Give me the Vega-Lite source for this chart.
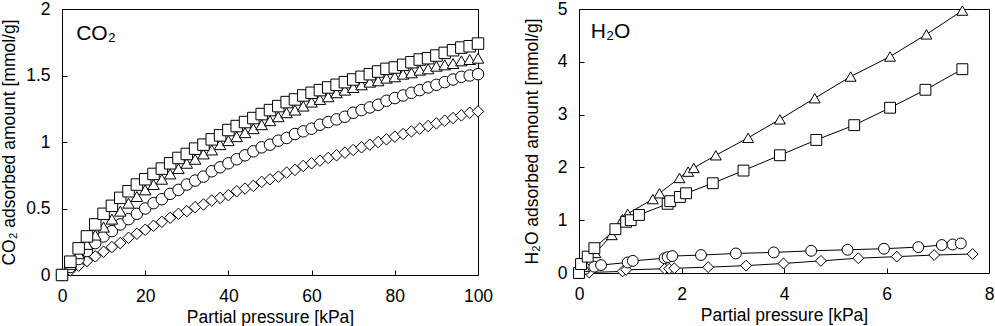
{
  "$schema": "https://vega.github.io/schema/vega-lite/v6.json",
  "autosize": {"type": "pad"},
  "padding": {"left": 0, "top": -1, "right": 0, "bottom": 0},
  "background": "white",
  "spacing": 101,
  "bounds": "flush",
  "config": {
    "view": {"stroke": "black", "strokeWidth": 1},
    "font": "Liberation Sans",
    "axis": {
      "labelFont": "Liberation Sans", "labelFontSize": 17.5, "labelColor": "black",
      "titleFont": "Liberation Sans", "titleFontSize": 17.5, "titleFontWeight": "normal", "titleColor": "black",
      "tickSize": -5, "tickColor": "black", "tickWidth": 1, "labelPadding": 17,
      "domain": false, "grid": false, "labelFlush": false
    }
  },
  "datasets": {
    "co2": [
      {"p":0,"q":0,"s":"di"},{"p":2,"q":0.035,"s":"di"},{"p":4,"q":0.07,"s":"di"},{"p":6,"q":0.105,"s":"di"},{"p":8,"q":0.14,"s":"di"},{"p":10,"q":0.175,"s":"di"},{"p":12,"q":0.21,"s":"di"},{"p":14,"q":0.24,"s":"di"},{"p":16,"q":0.28,"s":"di"},{"p":18,"q":0.31,"s":"di"},{"p":20,"q":0.34,"s":"di"},{"p":22,"q":0.37,"s":"di"},{"p":24,"q":0.4,"s":"di"},{"p":26,"q":0.43,"s":"di"},{"p":28,"q":0.46,"s":"di"},{"p":30,"q":0.48,"s":"di"},{"p":32,"q":0.51,"s":"di"},{"p":34,"q":0.53,"s":"di"},{"p":36,"q":0.56,"s":"di"},{"p":38,"q":0.58,"s":"di"},{"p":40,"q":0.6,"s":"di"},{"p":42,"q":0.63,"s":"di"},{"p":44,"q":0.65,"s":"di"},{"p":46,"q":0.67,"s":"di"},{"p":48,"q":0.7,"s":"di"},{"p":50,"q":0.72,"s":"di"},{"p":52,"q":0.74,"s":"di"},{"p":54,"q":0.77,"s":"di"},{"p":56,"q":0.79,"s":"di"},{"p":58,"q":0.82,"s":"di"},{"p":60,"q":0.84,"s":"di"},{"p":62,"q":0.86,"s":"di"},{"p":64,"q":0.88,"s":"di"},{"p":66,"q":0.9,"s":"di"},{"p":68,"q":0.92,"s":"di"},{"p":70,"q":0.94,"s":"di"},{"p":72,"q":0.96,"s":"di"},{"p":74,"q":0.98,"s":"di"},{"p":76,"q":1.0,"s":"di"},{"p":78,"q":1.02,"s":"di"},{"p":80,"q":1.04,"s":"di"},{"p":82,"q":1.06,"s":"di"},{"p":84,"q":1.08,"s":"di"},{"p":86,"q":1.1,"s":"di"},{"p":88,"q":1.12,"s":"di"},{"p":90,"q":1.14,"s":"di"},{"p":92,"q":1.16,"s":"di"},{"p":94,"q":1.18,"s":"di"},{"p":96,"q":1.2,"s":"di"},{"p":98,"q":1.22,"s":"di"},{"p":100,"q":1.23,"s":"di"},
      {"p":0,"q":0,"s":"ci"},{"p":2,"q":0.06,"s":"ci"},{"p":4,"q":0.12,"s":"ci"},{"p":6,"q":0.18,"s":"ci"},{"p":8,"q":0.24,"s":"ci"},{"p":10,"q":0.29,"s":"ci"},{"p":12,"q":0.33,"s":"ci"},{"p":14,"q":0.38,"s":"ci"},{"p":16,"q":0.42,"s":"ci"},{"p":18,"q":0.46,"s":"ci"},{"p":20,"q":0.5,"s":"ci"},{"p":22,"q":0.54,"s":"ci"},{"p":24,"q":0.57,"s":"ci"},{"p":26,"q":0.61,"s":"ci"},{"p":28,"q":0.64,"s":"ci"},{"p":30,"q":0.68,"s":"ci"},{"p":32,"q":0.71,"s":"ci"},{"p":34,"q":0.74,"s":"ci"},{"p":36,"q":0.78,"s":"ci"},{"p":38,"q":0.81,"s":"ci"},{"p":40,"q":0.84,"s":"ci"},{"p":42,"q":0.87,"s":"ci"},{"p":44,"q":0.9,"s":"ci"},{"p":46,"q":0.93,"s":"ci"},{"p":48,"q":0.96,"s":"ci"},{"p":50,"q":0.98,"s":"ci"},{"p":52,"q":1.01,"s":"ci"},{"p":54,"q":1.03,"s":"ci"},{"p":56,"q":1.06,"s":"ci"},{"p":58,"q":1.08,"s":"ci"},{"p":60,"q":1.1,"s":"ci"},{"p":62,"q":1.13,"s":"ci"},{"p":64,"q":1.15,"s":"ci"},{"p":66,"q":1.17,"s":"ci"},{"p":68,"q":1.19,"s":"ci"},{"p":70,"q":1.22,"s":"ci"},{"p":72,"q":1.24,"s":"ci"},{"p":74,"q":1.26,"s":"ci"},{"p":76,"q":1.28,"s":"ci"},{"p":78,"q":1.31,"s":"ci"},{"p":80,"q":1.33,"s":"ci"},{"p":82,"q":1.35,"s":"ci"},{"p":84,"q":1.37,"s":"ci"},{"p":86,"q":1.39,"s":"ci"},{"p":88,"q":1.41,"s":"ci"},{"p":90,"q":1.43,"s":"ci"},{"p":92,"q":1.45,"s":"ci"},{"p":94,"q":1.47,"s":"ci"},{"p":96,"q":1.49,"s":"ci"},{"p":98,"q":1.5,"s":"ci"},{"p":100,"q":1.51,"s":"ci"},
      {"p":0,"q":0,"s":"tr"},{"p":2,"q":0.08,"s":"tr"},{"p":4,"q":0.16,"s":"tr"},{"p":6,"q":0.23,"s":"tr"},{"p":8,"q":0.3,"s":"tr"},{"p":10,"q":0.36,"s":"tr"},{"p":12,"q":0.42,"s":"tr"},{"p":14,"q":0.48,"s":"tr"},{"p":16,"q":0.54,"s":"tr"},{"p":18,"q":0.59,"s":"tr"},{"p":20,"q":0.64,"s":"tr"},{"p":22,"q":0.68,"s":"tr"},{"p":24,"q":0.72,"s":"tr"},{"p":26,"q":0.76,"s":"tr"},{"p":28,"q":0.8,"s":"tr"},{"p":30,"q":0.84,"s":"tr"},{"p":32,"q":0.87,"s":"tr"},{"p":34,"q":0.91,"s":"tr"},{"p":36,"q":0.94,"s":"tr"},{"p":38,"q":0.98,"s":"tr"},{"p":40,"q":1.01,"s":"tr"},{"p":42,"q":1.04,"s":"tr"},{"p":44,"q":1.07,"s":"tr"},{"p":46,"q":1.1,"s":"tr"},{"p":48,"q":1.13,"s":"tr"},{"p":50,"q":1.16,"s":"tr"},{"p":52,"q":1.19,"s":"tr"},{"p":54,"q":1.22,"s":"tr"},{"p":56,"q":1.24,"s":"tr"},{"p":58,"q":1.27,"s":"tr"},{"p":60,"q":1.3,"s":"tr"},{"p":62,"q":1.32,"s":"tr"},{"p":64,"q":1.34,"s":"tr"},{"p":66,"q":1.37,"s":"tr"},{"p":68,"q":1.39,"s":"tr"},{"p":70,"q":1.41,"s":"tr"},{"p":72,"q":1.43,"s":"tr"},{"p":74,"q":1.45,"s":"tr"},{"p":76,"q":1.46,"s":"tr"},{"p":78,"q":1.48,"s":"tr"},{"p":80,"q":1.49,"s":"tr"},{"p":82,"q":1.51,"s":"tr"},{"p":84,"q":1.52,"s":"tr"},{"p":86,"q":1.54,"s":"tr"},{"p":88,"q":1.55,"s":"tr"},{"p":90,"q":1.57,"s":"tr"},{"p":92,"q":1.58,"s":"tr"},{"p":94,"q":1.59,"s":"tr"},{"p":96,"q":1.61,"s":"tr"},{"p":98,"q":1.62,"s":"tr"},{"p":100,"q":1.63,"s":"tr"},
      {"p":0,"q":0,"s":"sq"},{"p":2,"q":0.1,"s":"sq"},{"p":4,"q":0.2,"s":"sq"},{"p":6,"q":0.29,"s":"sq"},{"p":8,"q":0.38,"s":"sq"},{"p":10,"q":0.46,"s":"sq"},{"p":12,"q":0.52,"s":"sq"},{"p":14,"q":0.58,"s":"sq"},{"p":16,"q":0.63,"s":"sq"},{"p":18,"q":0.68,"s":"sq"},{"p":20,"q":0.72,"s":"sq"},{"p":22,"q":0.76,"s":"sq"},{"p":24,"q":0.8,"s":"sq"},{"p":26,"q":0.84,"s":"sq"},{"p":28,"q":0.88,"s":"sq"},{"p":30,"q":0.91,"s":"sq"},{"p":32,"q":0.95,"s":"sq"},{"p":34,"q":0.98,"s":"sq"},{"p":36,"q":1.02,"s":"sq"},{"p":38,"q":1.05,"s":"sq"},{"p":40,"q":1.09,"s":"sq"},{"p":42,"q":1.12,"s":"sq"},{"p":44,"q":1.15,"s":"sq"},{"p":46,"q":1.18,"s":"sq"},{"p":48,"q":1.21,"s":"sq"},{"p":50,"q":1.24,"s":"sq"},{"p":52,"q":1.27,"s":"sq"},{"p":54,"q":1.3,"s":"sq"},{"p":56,"q":1.32,"s":"sq"},{"p":58,"q":1.35,"s":"sq"},{"p":60,"q":1.37,"s":"sq"},{"p":62,"q":1.39,"s":"sq"},{"p":64,"q":1.41,"s":"sq"},{"p":66,"q":1.43,"s":"sq"},{"p":68,"q":1.45,"s":"sq"},{"p":70,"q":1.47,"s":"sq"},{"p":72,"q":1.49,"s":"sq"},{"p":74,"q":1.51,"s":"sq"},{"p":76,"q":1.53,"s":"sq"},{"p":78,"q":1.55,"s":"sq"},{"p":80,"q":1.56,"s":"sq"},{"p":82,"q":1.58,"s":"sq"},{"p":84,"q":1.6,"s":"sq"},{"p":86,"q":1.62,"s":"sq"},{"p":88,"q":1.63,"s":"sq"},{"p":90,"q":1.65,"s":"sq"},{"p":92,"q":1.67,"s":"sq"},{"p":94,"q":1.69,"s":"sq"},{"p":96,"q":1.71,"s":"sq"},{"p":98,"q":1.72,"s":"sq"},{"p":100,"q":1.74,"s":"sq"}
    ],
    "h2o": [
      {"p":0,"q":0,"s":"di"},{"p":0.04,"q":0.02,"s":"di"},{"p":0.2,"q":0.01,"s":"di"},{"p":0.85,"q":0.03,"s":"di"},{"p":0.92,"q":0.06,"s":"di"},{"p":1.67,"q":0.08,"s":"di"},{"p":1.76,"q":0.08,"s":"di"},{"p":1.86,"q":0.09,"s":"di"},{"p":2.52,"q":0.11,"s":"di"},{"p":3.26,"q":0.14,"s":"di"},{"p":3.99,"q":0.18,"s":"di"},{"p":4.72,"q":0.23,"s":"di"},{"p":5.45,"q":0.28,"s":"di"},{"p":6.2,"q":0.31,"s":"di"},{"p":6.93,"q":0.34,"s":"di"},{"p":7.68,"q":0.36,"s":"di"},
      {"p":0,"q":0,"s":"ci"},{"p":0.04,"q":0.06,"s":"ci"},{"p":0.12,"q":0.08,"s":"ci"},{"p":0.3,"q":0.12,"s":"ci"},{"p":0.43,"q":0.15,"s":"ci"},{"p":0.95,"q":0.2,"s":"ci"},{"p":1.05,"q":0.23,"s":"ci"},{"p":1.67,"q":0.28,"s":"ci"},{"p":1.73,"q":0.3,"s":"ci"},{"p":1.82,"q":0.32,"s":"ci"},{"p":2.38,"q":0.34,"s":"ci"},{"p":3.06,"q":0.37,"s":"ci"},{"p":3.8,"q":0.39,"s":"ci"},{"p":4.53,"q":0.42,"s":"ci"},{"p":5.24,"q":0.44,"s":"ci"},{"p":5.95,"q":0.46,"s":"ci"},{"p":6.62,"q":0.49,"s":"ci"},{"p":7.08,"q":0.53,"s":"ci"},{"p":7.29,"q":0.54,"s":"ci"},{"p":7.45,"q":0.56,"s":"ci"},
      {"p":0,"q":0,"s":"tr"},{"p":0.1,"q":0.12,"s":"tr"},{"p":0.32,"q":0.38,"s":"tr"},{"p":0.64,"q":0.72,"s":"tr"},{"p":0.85,"q":1.02,"s":"tr"},{"p":0.95,"q":1.12,"s":"tr"},{"p":1.44,"q":1.4,"s":"tr"},{"p":1.57,"q":1.51,"s":"tr"},{"p":1.96,"q":1.8,"s":"tr"},{"p":2.13,"q":1.92,"s":"tr"},{"p":2.24,"q":1.99,"s":"tr"},{"p":2.67,"q":2.23,"s":"tr"},{"p":3.3,"q":2.56,"s":"tr"},{"p":3.92,"q":2.91,"s":"tr"},{"p":4.6,"q":3.31,"s":"tr"},{"p":5.3,"q":3.72,"s":"tr"},{"p":6.07,"q":4.1,"s":"tr"},{"p":6.78,"q":4.52,"s":"tr"},{"p":7.48,"q":4.97,"s":"tr"},
      {"p":0,"q":0,"s":"sq"},{"p":0.04,"q":0.17,"s":"sq"},{"p":0.17,"q":0.31,"s":"sq"},{"p":0.3,"q":0.47,"s":"sq"},{"p":0.71,"q":0.83,"s":"sq"},{"p":0.92,"q":0.97,"s":"sq"},{"p":1.01,"q":1.0,"s":"sq"},{"p":1.17,"q":1.1,"s":"sq"},{"p":1.73,"q":1.31,"s":"sq"},{"p":1.78,"q":1.36,"s":"sq"},{"p":1.97,"q":1.44,"s":"sq"},{"p":2.09,"q":1.51,"s":"sq"},{"p":2.61,"q":1.7,"s":"sq"},{"p":3.21,"q":1.94,"s":"sq"},{"p":3.92,"q":2.23,"s":"sq"},{"p":4.63,"q":2.52,"s":"sq"},{"p":5.37,"q":2.8,"s":"sq"},{"p":6.07,"q":3.13,"s":"sq"},{"p":6.76,"q":3.47,"s":"sq"},{"p":7.48,"q":3.86,"s":"sq"}
    ]
  },
  "hconcat": [
    {
      "width": 416,
      "height": 266,
      "layer": [
        {
          "data": {"name": "co2"},
          "mark": {"type": "point", "filled": true, "fill": "white", "stroke": "black", "strokeWidth": 1, "size": 132, "opacity": 1},
          "encoding": {
            "x": {"field": "p", "type": "quantitative", "scale": {"domain": [0, 100], "nice": false}, "axis": {"values": [0, 20, 40, 60, 80, 100], "title": "Partial pressure [kPa]", "titlePadding": 4}},
            "y": {"field": "q", "type": "quantitative", "scale": {"domain": [0, 2], "nice": false}, "axis": {"values": [0, 0.5, 1, 1.5, 2], "format": "~g", "title": "CO₂ adsorbed amount [mmol/g]", "titlePadding": 7}},
            "shape": {"field": "s", "type": "nominal", "scale": {"domain": ["sq", "tr", "ci", "di"], "range": ["square", "triangle-up", "circle", "diamond"]}, "legend": null}
          }
        },
        {
          "data": {"values": [{"x": 3.4, "y": 1.77, "t": "CO₂"}]},
          "mark": {"type": "text", "align": "left", "baseline": "alphabetic", "font": "Liberation Sans", "fontSize": 21, "color": "black"},
          "encoding": {
            "x": {"field": "x", "type": "quantitative"},
            "y": {"field": "y", "type": "quantitative"},
            "text": {"field": "t"}
          }
        }
      ]
    },
    {
      "width": 410,
      "height": 264,
      "layer": [
        {
          "data": {"name": "h2o"},
          "mark": {"type": "line", "color": "black", "strokeWidth": 1},
          "encoding": {
            "x": {"field": "p", "type": "quantitative", "scale": {"domain": [0, 8], "nice": false}, "axis": {"values": [0, 2, 4, 6, 8], "title": "Partial pressure [kPa]", "titlePadding": 4}},
            "y": {"field": "q", "type": "quantitative", "scale": {"domain": [0, 5], "nice": false}, "axis": {"values": [0, 1, 2, 3, 4, 5], "title": "H₂O adsorbed amount [mmol/g]", "titlePadding": 16}},
            "detail": {"field": "s", "type": "nominal"}
          }
        },
        {
          "data": {"name": "h2o"},
          "mark": {"type": "point", "filled": true, "fill": "white", "stroke": "black", "strokeWidth": 1, "size": 118, "opacity": 1},
          "encoding": {
            "x": {"field": "p", "type": "quantitative"},
            "y": {"field": "q", "type": "quantitative"},
            "shape": {"field": "s", "type": "nominal", "scale": {"domain": ["sq", "tr", "ci", "di"], "range": ["square", "triangle-up", "circle", "diamond"]}, "legend": null}
          }
        },
        {
          "data": {"values": [{"x": 0.23, "y": 4.45, "t": "H₂O"}]},
          "mark": {"type": "text", "align": "left", "baseline": "alphabetic", "font": "Liberation Sans", "fontSize": 21, "color": "black"},
          "encoding": {
            "x": {"field": "x", "type": "quantitative"},
            "y": {"field": "y", "type": "quantitative"},
            "text": {"field": "t"}
          }
        }
      ]
    }
  ]
}
